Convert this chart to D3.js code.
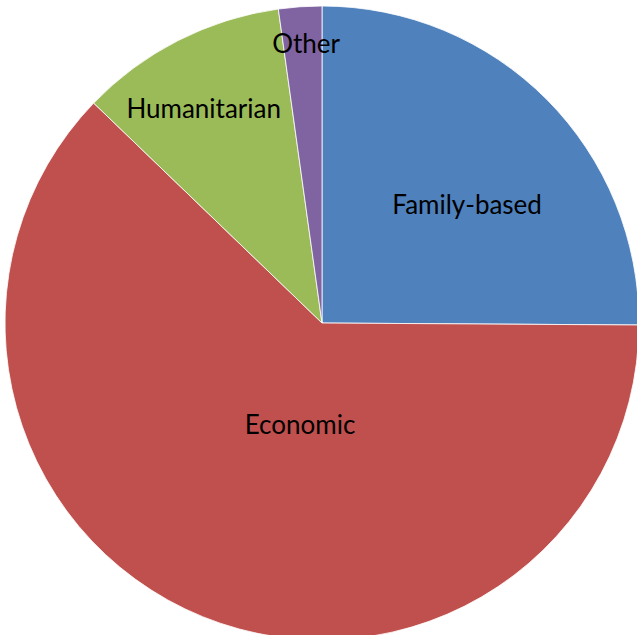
<!DOCTYPE html>
<html>
<head>
<meta charset="utf-8">
<script src="https://cdn.jsdelivr.net/npm/d3@7"></script>
<style>
  body { margin: 0; background: #fff; }
</style>
</head>
<body>
<div id="chart"></div>
<script>
const categories = ["Family-based", "Economic", "Humanitarian", "Other"];
const values = [25.1, 62.1, 10.6, 2.2];
const colors = ["#4F81BD", "#C0504D", "#9BBB59", "#8064A2"];

const width = 637;
const height = 635;
const cx = 322;
const cy = 323;
const radius = 317;
// label placement: fraction of radius and angle nudge (degrees)
const labelR = [0.59, 0.33, 0.77, 0.88];
const labelDA = [5.7, -10, -2, 0.7];

const svg = d3.select("#chart")
  .append("svg")
  .attr("width", width)
  .attr("height", height);

const pie = d3.pie().sort(null).value(d => d);
const arcs = pie(values);
const arc = d3.arc().innerRadius(0).outerRadius(radius);

const g = svg.append("g").attr("transform", `translate(${cx},${cy})`);

g.selectAll("path")
  .data(arcs)
  .enter()
  .append("path")
  .attr("d", arc)
  .attr("fill", (d, i) => colors[i])
  .attr("stroke", "#fff")
  .attr("stroke-width", 0.8);

g.selectAll("text")
  .data(arcs)
  .enter()
  .append("text")
  .attr("x", (d, i) => {
    const a = (d.startAngle + d.endAngle) / 2 + labelDA[i] * Math.PI / 180;
    return Math.sin(a) * radius * labelR[i];
  })
  .attr("y", (d, i) => {
    const a = (d.startAngle + d.endAngle) / 2 + labelDA[i] * Math.PI / 180;
    return -Math.cos(a) * radius * labelR[i] - 1.5;
  })
  .attr("text-anchor", "middle")
  .attr("dominant-baseline", "central")
  .attr("font-family", "Lato, sans-serif")
  .attr("font-size", 26)
  .attr("fill", "#000")
  .text((d, i) => categories[i]);
</script>
</body>
</html>
